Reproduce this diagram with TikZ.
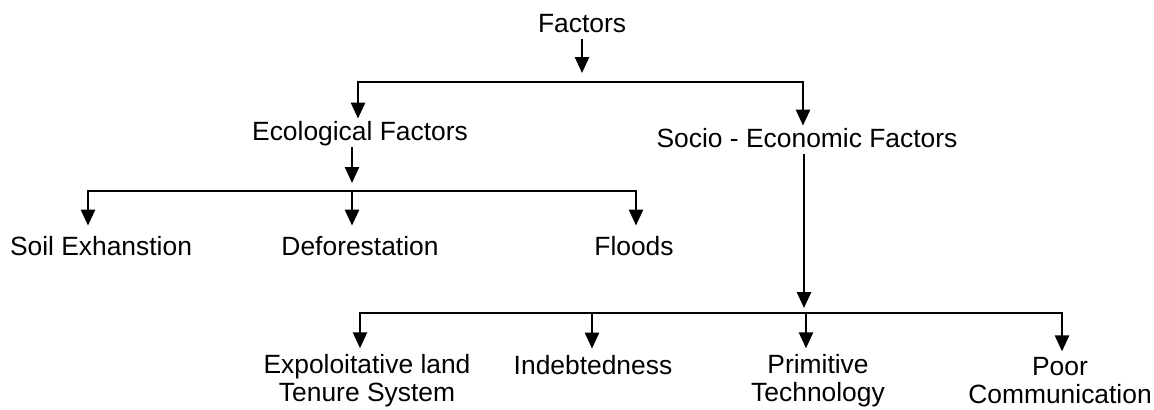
\documentclass[tikz,border=0pt]{standalone}
\usepackage{fontspec}
\setmainfont{Liberation Sans}
\usepackage{xcolor}
\usetikzlibrary{arrows.meta}

\begin{document}
\begin{tikzpicture}[x=0.5pt, y=-0.5pt,
		lbl/.style={font=\fontsize{13.2}{14}\selectfont, text height=9.5pt, text depth=2.5pt, inner sep=1pt},
		lbltwo/.style={font=\fontsize{13.2}{14}\selectfont, align=center, inner sep=1pt},
		arr/.style={line width=1.3pt, -{Triangle[width=7pt,length=8pt]}},
		arrs/.style={line width=1.3pt, {Triangle[width=7pt,length=8pt]}-{Triangle[width=7pt,length=8pt]}}]
				\useasboundingbox (0,0) rectangle (1154,409);

				\node[lbl] (factors) at (582,25) {Factors};
				\node[lbl] (eco) at (360,133) {Ecological Factors};
				\node[lbl] (socio) at (807,140) {Socio - Economic Factors};

				\node[lbl] (soil) at (101,248) {Soil Exhanstion};
				\node[lbl] (defor) at (360,248) {Deforestation};
				\node[lbl] (floods) at (634,248) {Floods};

				\node[lbltwo] (expl) at (367,381) {Expoloitative land\\Tenure System};
				\node[lbl] (indebt) at (593,367) {Indebtedness};
				\node[lbltwo] (prim) at (818,381) {Primitive\\Technology};
				\node[lbltwo] (poor) at (1060,381) {Poor\\Communication};

				\coordinate (f1) at (582,73);
				\coordinate (b1L) at (358,82);
				\coordinate (b1R) at (803,82);
				\draw[arr] (factors.south) -- (f1);
				\draw[arrs] (b1L |- eco.north) -- (b1L) -- (b1R) -- (b1R |- socio.north);

				\coordinate (e1) at (352,183);
				\coordinate (b2L) at (88,191);
				\coordinate (b2M) at (352,191);
				\coordinate (b2R) at (636,191);
				\draw[arr] (eco.south -| e1) -- (e1);
				\draw[arrs, shorten <=4pt, shorten >=4pt] (b2L |- soil.north) -- (b2L) -- (b2R) -- (b2R |- floods.north);
				\draw[arr, shorten >=4pt] (b2M) -- (b2M |- defor.north);

				\coordinate (s1) at (804,308);
				\coordinate (b3L) at (360,313);
				\coordinate (b3A) at (592,313);
				\coordinate (b3B) at (806,313);
				\coordinate (b3R) at (1062,313);
				\draw[arr] (socio.south -| s1) -- (s1);
				\draw[arrs, shorten <=2pt, shorten >=2pt] (b3L |- expl.north) -- (b3L) -- (b3R) -- (b3R |- poor.north);
				\draw[arr, shorten >=2pt] (b3A) -- (b3A |- indebt.north);
				\draw[arr, shorten >=2pt] (b3B) -- (b3B |- prim.north);
			\end{tikzpicture}
\end{document}
